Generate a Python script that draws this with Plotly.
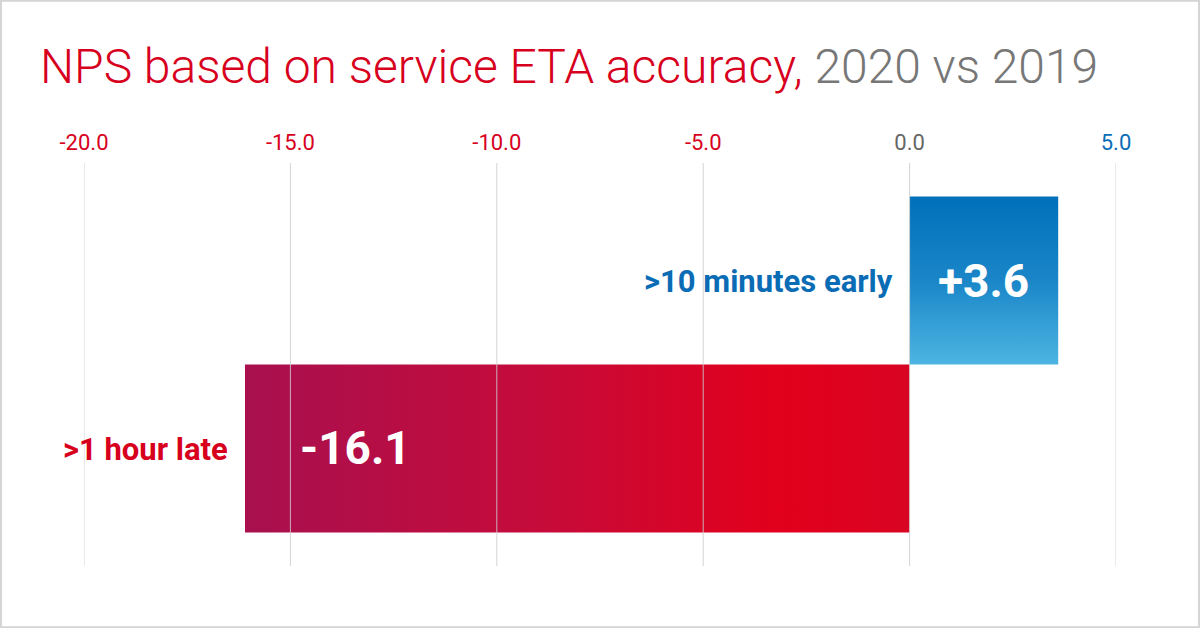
import plotly.graph_objects as go

# data
categories = [">1 hour late", ">10 minutes early"]
values = [-16.1, 3.6]
value_labels = ["-16.1", "+3.6"]
tick_vals = [-20, -15, -10, -5, 0, 5]
tick_labels = ["-20.0", "-15.0", "-10.0", "-5.0", "0.0", "5.0"]

RED = "#d7001d"
BLUE = "#0a6cb5"
GREY = "#666666"

W, H = 1200, 628
ML, MR, MT, MB = 84, 84, 163, 62


def tick_color(v):
    if v < 0:
        return RED
    if v > 0:
        return BLUE
    return GREY


fig = go.Figure()

# bars drawn as filled polygons so they can carry a gradient
gradients = [
    dict(type="horizontal", colorscale=[[0, "#a8104f"], [0.45, "#c60b3a"], [0.8, "#e2001c"], [1, "#d90423"]]),
    dict(type="vertical", colorscale=[[0, "#4db5e2"], [0.5, "#1a86c8"], [1, "#0070bb"]]),
]
for i, (cat, v) in enumerate(zip(categories, values)):
    fig.add_trace(go.Scatter(
        x=[0, v, v, 0, 0],
        y=[i - 0.5, i - 0.5, i + 0.5, i + 0.5, i - 0.5],
        fill="toself", fillgradient=gradients[i],
        mode="lines", line=dict(width=0),
        hoverinfo="skip", showlegend=False,
    ))

# gridlines on top of the bars
for v in tick_vals:
    fig.add_shape(type="line", xref="x", yref="paper", x0=v, x1=v, y0=0, y1=1,
                  line=dict(color="rgba(205,205,205,0.85)", width=1), layer="above")

# category labels left of each bar, value labels inside
for i, (cat, v, lab) in enumerate(zip(categories, values, value_labels)):
    col = RED if v < 0 else BLUE
    fig.add_annotation(x=min(v, 0), y=i, text=cat, showarrow=False,
                       xanchor="right", xshift=-15, yshift=-1,
                       font=dict(family="Roboto", size=31, color=col, weight=700))
    if v < 0:
        fig.add_annotation(x=v, y=i, text=lab, showarrow=False, xanchor="left", xshift=53,
                           font=dict(family="Roboto", size=46, color="white", weight=700))
    else:
        fig.add_annotation(x=v / 2, y=i, text=lab, showarrow=False, xanchor="center",
                           font=dict(family="Roboto", size=46, color="white", weight=700))

# thin frame round the picture
pw, ph = W - ML - MR, H - MT - MB
fig.add_shape(type="rect", xref="paper", yref="paper",
              x0=-ML / pw + 0.001, x1=1 + MR / pw - 0.001,
              y0=-MB / ph + 0.002, y1=1 + MT / ph - 0.002,
              line=dict(color="#d4d4d4", width=2), layer="above")

fig.update_layout(
    width=W, height=H,
    margin=dict(l=ML, r=MR, t=MT, b=MB),
    paper_bgcolor="white", plot_bgcolor="white",
    title=dict(
        text=f'<span style="color:{RED}">NPS based on service ETA accuracy,</span> '
             f'<span style="color:#777777">2020 vs 2019</span>',
        x=40 / W, xanchor="left", xref="container",
        y=1 - 66 / H, yanchor="middle", yref="container",
        font=dict(family="Roboto", size=48, weight=300),
    ),
    xaxis=dict(
        range=[-20, 5], side="top", showgrid=False, zeroline=False, showline=False,
        tickvals=tick_vals,
        ticktext=[f'<span style="color:{tick_color(v)}">{t}</span>' for v, t in zip(tick_vals, tick_labels)],
        ticks="outside", ticklen=3, tickcolor="rgba(0,0,0,0)",
        tickfont=dict(family="Roboto", size=22, weight=400),
        fixedrange=True,
    ),
    yaxis=dict(range=[-0.7, 1.7], visible=False, fixedrange=True),
    showlegend=False,
)

fig.write_html("out.html", config={"displayModeBar": False},
               post_script="document.body.style.margin='0';document.body.style.overflow='hidden';")
